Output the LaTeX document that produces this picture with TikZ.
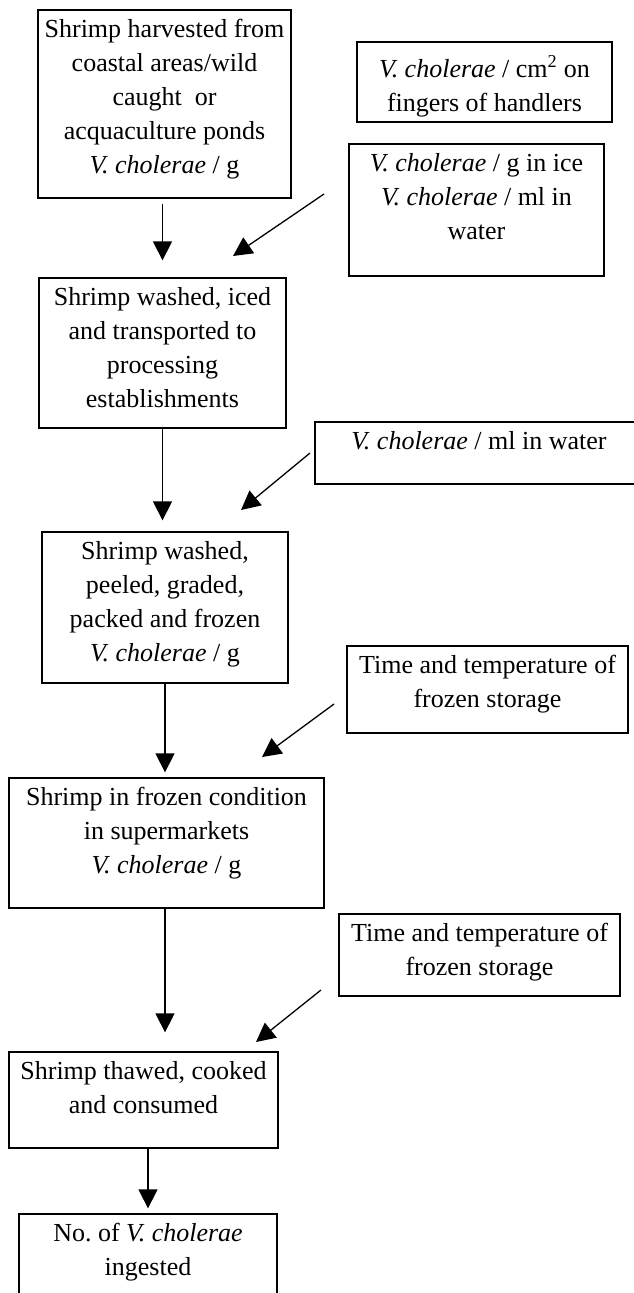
\documentclass[tikz,border=0pt]{standalone}
\usepackage{fontspec}
\setmainfont{Liberation Serif}
\usetikzlibrary{arrows.meta}
\newcommand{\boxtext}[4][27pt]{\parbox[c][#3][t]{#2}{\centering\rule{0pt}{#1}#4}}

\begin{document}
\begin{tikzpicture}[x=1pt,y=-1pt,font=\fontsize{26}{34}\selectfont]
	\useasboundingbox (0,0) rectangle (633,1293);
	\tikzstyle{box}=[draw,line width=1.3pt,inner sep=0pt]
	\tikzstyle{flow}=[-{Triangle[length=19pt,width=19pt]},line width=1.3pt]

	\node[box] (A) at (164.5,104) {\boxtext{253pt}{188pt}{Shrimp harvested from\\coastal areas/wild\\caught~ or\\acquaculture ponds\\\textit{V. cholerae} / g}};
	\node[box] (B) at (162.5,353) {\boxtext{247pt}{150pt}{Shrimp washed, iced\\and transported to\\processing\\establishments}};
	\node[box] (C) at (165,607.5) {\boxtext{246pt}{151pt}{Shrimp washed,\\peeled, graded,\\packed and frozen\\\textit{V. cholerae} / g}};
	\node[box] (D) at (166.5,843) {\boxtext{315pt}{130pt}{Shrimp in frozen condition\\in supermarkets\\\textit{V. cholerae} / g}};
	\node[box] (E) at (143.5,1100) {\boxtext{269pt}{96pt}{Shrimp thawed, cooked\\and consumed}};
	\node[box] (F) at (148,1257) {\boxtext{258pt}{86pt}{No.\ of \textit{V. cholerae}\\ingested}};

	\node[box] (P) at (484.5,82) {\boxtext[35pt]{255pt}{80pt}{\textit{V. cholerae} / cm\textsuperscript{2} on\\fingers of handlers}};
	\node[box] (Q) at (476.5,210) {\boxtext{255pt}{132pt}{\textit{V. cholerae} / g in ice\\\textit{V. cholerae} / ml in\\water}};
	\node[box] (R) at (479,453) {\boxtext{328pt}{62pt}{\textit{V. cholerae} / ml in water}};
	\node[box] (S) at (487.5,689.5) {\boxtext{281pt}{87pt}{Time and temperature of\\frozen storage}};
	\node[box] (T) at (479.5,955) {\boxtext{281pt}{82pt}{Time and temperature of\\frozen storage}};

	\coordinate (Q1) at (324,194);
	\coordinate (Q2) at (233,256);
	\coordinate (R1) at (310,453);
	\coordinate (R2) at (241,510);
	\coordinate (S1) at (334,704);
	\coordinate (S2) at (262,757);
	\coordinate (T1) at (321,990);
	\coordinate (T2) at (256,1042);

	\draw[flow, shorten <=5pt, shorten >=17pt] (A.south -| B) -- (B.north);
	\draw[flow, shorten >=11pt] (B.south) -- (B.south |- C.north);
	\draw[flow, shorten >=5pt] (C.south) -- (C.south |- D.north);
	\draw[flow, shorten >=19pt] (D.south -| C) -- (C |- E.north);
	\draw[flow, shorten >=5pt] (E.south -| F) -- (F.north);

	\draw[flow] (Q1) -- (Q2);
	\draw[flow] (R1) -- (R2);
	\draw[flow] (S1) -- (S2);
	\draw[flow] (T1) -- (T2);
\end{tikzpicture}
\end{document}
